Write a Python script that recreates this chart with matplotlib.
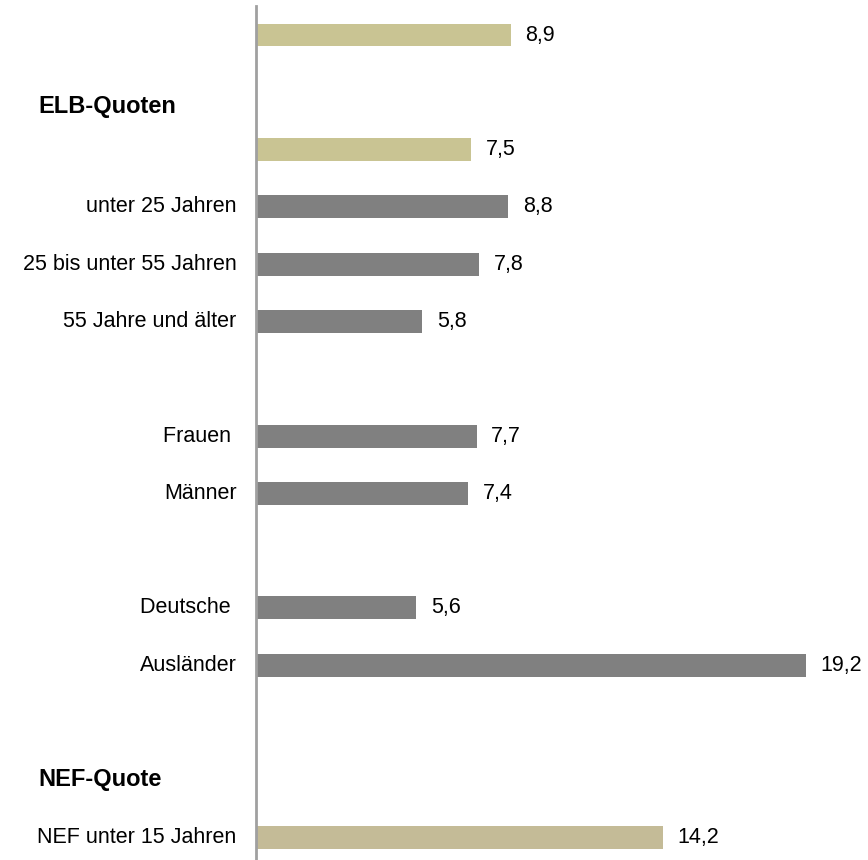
import matplotlib
matplotlib.use("Agg")
import matplotlib.pyplot as plt

plt.rcParams['font.family'] = ['Liberation Sans', 'DejaVu Sans']

# data, top to bottom (slot index on the y axis)
slots = [0, 2, 3, 4, 5, 7, 8, 10, 11, 14]
labels = ['', '', 'unter 25 Jahren', '25 bis unter 55 Jahren', '55 Jahre und älter',
          'Frauen ', 'Männer', 'Deutsche ', 'Ausländer', 'NEF unter 15 Jahren']
values = [8.9, 7.5, 8.8, 7.8, 5.8, 7.7, 7.4, 5.6, 19.2, 14.2]
colors = ['#C9C493', '#C9C493', '#808080', '#808080', '#808080',
          '#808080', '#808080', '#808080', '#808080', '#C4BB97']

# section headers: (slot, text)
headers = [(1.25, 'ELB-Quoten'), (13, 'NEF-Quote')]

fig = plt.figure(figsize=(8.68, 8.6), dpi=100)
ax = fig.add_axes([256 / 868, 0, 573 / 868, 1])

ax.barh(slots, values, height=0.40, color=colors, zorder=2)

# value labels right of the bars
for s, v in zip(slots, values):
    ax.annotate(f'{v:.1f}'.replace('.', ','), xy=(v, s), xytext=(10.5, 0),
                textcoords='offset points', ha='left', va='center', fontsize=15.5)

# category labels left of the axis
for s, lab in zip(slots, labels):
    ax.annotate(lab, xy=(0, s), xytext=(-14, 0), textcoords='offset points',
                ha='right', va='center', fontsize=15.5)

for s, txt in headers:
    ax.annotate(txt, xy=(0, s), xycoords=('axes fraction', 'data'),
                xytext=(38 / 868, 0), textcoords=('figure fraction', 'offset points'),
                ha='left', va='center', fontsize=17, fontweight='bold')

ax.set_xlim(0, 20)
ax.set_ylim(14.4, -0.611)
ax.set_xticks([])
ax.set_yticks([])
for side in ['top', 'right', 'bottom']:
    ax.spines[side].set_visible(False)
ax.spines['left'].set_color('#A0A0A0')
ax.spines['left'].set_linewidth(2)
ax.spines['left'].set_bounds(14.4, -0.506)

fig.savefig('out.png', dpi=100)
